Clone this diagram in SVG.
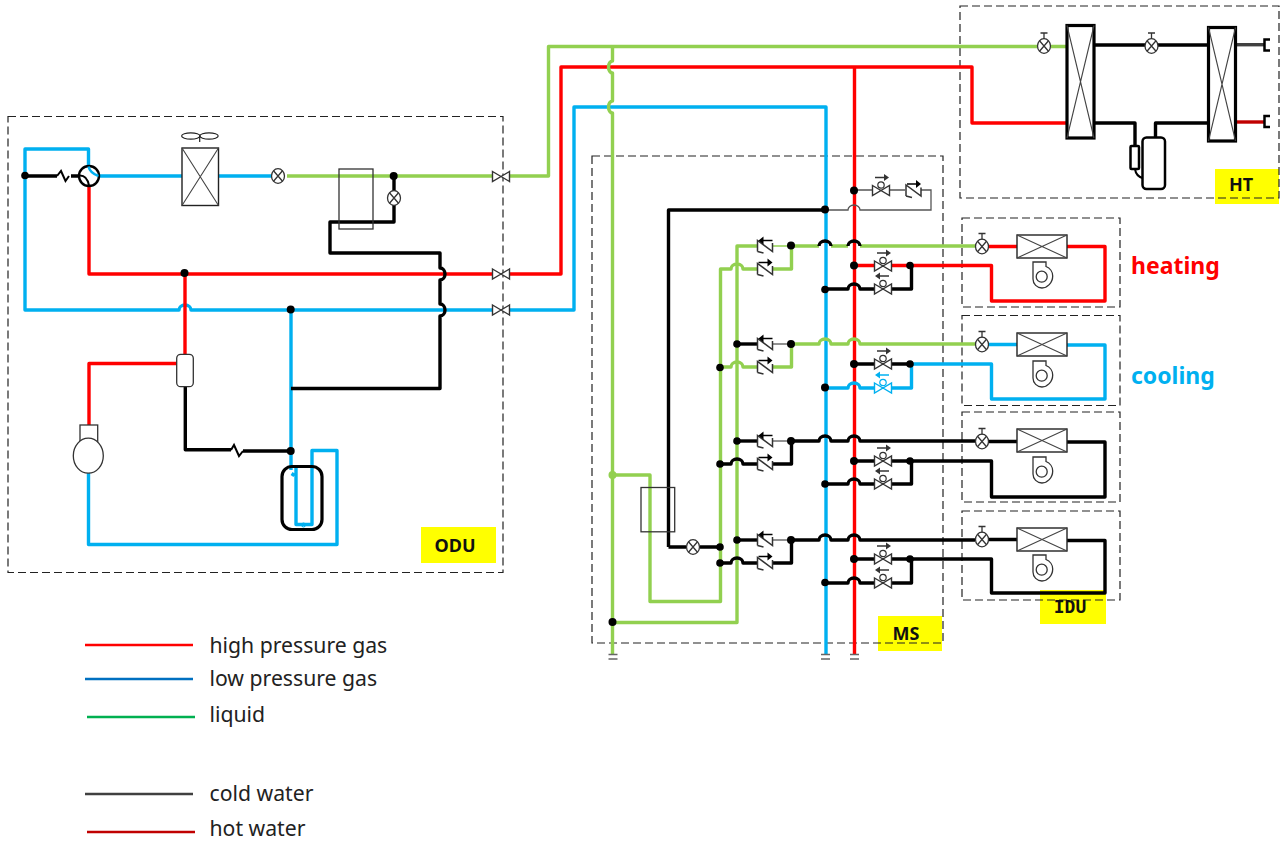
<svg xmlns="http://www.w3.org/2000/svg" xmlns:xlink="http://www.w3.org/1999/xlink" width="1280" height="845" viewBox="0 0 1280 845">
<style>
text{font-family:"Noto Sans","Open Sans","Liberation Sans",sans-serif}
.p{fill:none;stroke-width:3.4;stroke-linejoin:round;stroke-linecap:butt}
.g{stroke:#92d050}.b{stroke:#00b0f0}.r{stroke:#ff0000}.k{stroke:#000}
.t{fill:none;stroke:#555;stroke-width:1.3}
.dash{fill:none;stroke:#222;stroke-width:1.2;stroke-dasharray:8 4}
.hx{fill:#fff;stroke:#222;stroke-width:1.4}
.hxb{fill:#fff;stroke:#000;stroke-width:3.2}
.x{fill:none;stroke:#444;stroke-width:1.1}
.y{fill:#ffff00}
.lb{font-weight:700;font-size:18px;fill:#111;text-anchor:middle}
.lg{font-size:21.200px;fill:#222}
.big{font-weight:700;font-size:23px}
.dot{fill:#000}
</style>
<defs>
<g id="exv"><ellipse rx="6.500" ry="7.300" fill="#fff" stroke="#333" stroke-width="1.300"/><path d="M-4.500 -5.200L4.500 5.200M-4.500 5.200L4.500 -5.200" stroke="#333" stroke-width="1.300" fill="none"/></g>
<g id="exvh"><use xlink:href="#exv"/><path d="M0 -7V-13M-3.500 -13H3.500" stroke="#333" stroke-width="1.300" fill="none"/></g>
<path id="gate" d="M-8.500 -5L8.500 5V-5L-8.500 5Z" fill="#fff" stroke="currentColor" stroke-width="1.400"/>
<path id="ck" d="M-7 5.500V-5.500L8 5.500V-3M-7 5.500L-1 7" fill="none" stroke="currentColor" stroke-width="1.500"/>
<g id="svr"><use xlink:href="#gate"/><circle cy="-5.500" r="3.200" fill="#fff" stroke="currentColor" stroke-width="1.200"/><path d="M-6 -13H5" stroke="currentColor" stroke-width="1.500"/><path d="M8 -13L3 -16.500V-9.500Z" fill="currentColor"/></g>
<g id="svl"><use xlink:href="#gate"/><circle cy="-5.500" r="3.200" fill="#fff" stroke="currentColor" stroke-width="1.200"/><path d="M6 -13H-5" stroke="currentColor" stroke-width="1.500"/><path d="M-8 -13L-3 -16.500V-9.500Z" fill="currentColor"/></g>
<g id="ckl"><use xlink:href="#ck"/><path d="M8 -5.500H-2" stroke="#000" stroke-width="1.500"/><path d="M-6 -5.500L-1 -9.500V-1.500Z" fill="#000"/></g>
<g id="ckr"><use xlink:href="#ck"/><path d="M-6 -6.500H4" stroke="#000" stroke-width="1.500"/><path d="M8 -6.500L3 -10.500V-2.500Z" fill="#000"/></g>
<g id="fan"><path d="M0 0H13V4.500C17 6 19.700 10 19.700 14C19.700 21 14 26 9 26C4 26 0 22 0 17Z" fill="#fff" stroke="#333" stroke-width="1.300"/><circle cx="8.700" cy="14.700" r="5.500" fill="#fff" stroke="#333" stroke-width="1.300"/></g>
<g id="idx"><rect width="50" height="23" class="hx"/><path d="M0 0L50 23M0 23L50 0" class="x"/></g>
</defs>

<g id="frames">
<rect x="421" y="527" width="75" height="36" class="y"/>
<rect x="878" y="616" width="64" height="35" class="y"/>
<rect x="1215" y="169" width="64" height="35" class="y"/>
<rect x="1040" y="590" width="66" height="34" class="y"/>
<rect x="8" y="116.500" width="495" height="456" class="dash"/>
<rect x="592" y="156" width="351" height="487" class="dash"/>
<rect x="960" y="6" width="319" height="192" class="dash"/>
<rect x="962" y="218" width="158" height="89" class="dash"/>
<rect x="962" y="315.500" width="158" height="90" class="dash"/>
<rect x="962" y="412" width="158" height="90" class="dash"/>
<rect x="962" y="511" width="158" height="89" class="dash"/>
</g>

<g id="connectors">
<path class="p b" d="M88.500 165V149H25V310H179A6 5 0 0 1 191 310H492M510 310H574V107H826V655"/>
<path class="p b" d="M99 176H182M218 176H272"/>
<path class="p r" d="M89 186V274H492M510 274H561V67H972V123H1067"/>
<path class="p r" d="M854.500 67V654"/>
<path class="p r" d="M185 274V354M177 363.500H89V425"/>
<path class="p b" d="M291 310V470M88.500 473V544.500H337V450.500H312V524.500H296V468M294 473L292 476"/>
<path class="p k" d="M25 176H57M71 176H80"/>
<path d="M57 176L61 171L65.500 181L69 176" fill="none" stroke="#000" stroke-width="2"/>
<path class="p k" d="M185.300 387V449.700H231M243 451H291"/>
<path d="M231 450L234 445L239 456L243 451" fill="none" stroke="#000" stroke-width="2"/>
<path class="p k" d="M291 388.500H440V316A5 6 0 0 0 440 304V280A5 6 0 0 0 440 268V253H330V222H394V205M394 192V176"/>
<path class="p g" d="M287 176H492M510 176H548.500V46.500H1037M1051 46.500H1067"/>
<path class="p g" d="M612.500 46.500V61A4 6 0 0 0 612.500 73V101A4 6 0 0 0 612.500 113V654"/>
<path class="p g" d="M612.500 475H650V601.500H720.500V269H731A6 5 0 0 1 743 269H757M772 269H791.500V246M612.500 622.500H737V246H757"/>
<path d="M772 246H791" stroke="#92d050" stroke-width="1.500" fill="none"/>
<path class="p g" d="M791 246H819M831 246H848M860 246H975"/>
<path class="p k" d="M819 246A6 5 0 0 1 831 246M848 246A6 5 0 0 1 860 246"/>
<path class="p k" d="M668.500 547V210H825M668.500 547H686M700 547H720"/>
<path class="t" d="M854 190H872M890 190H905M921 190H931V210H860A6 5 0 0 0 848 210H825"/>
<path class="p k" d="M737 344H757"/><path class="t" d="M772 344H791"/>
<path class="p g" d="M791 344H819A6 5 0 0 1 831 344H848A6 5 0 0 1 860 344H975"/>
<path class="p g" d="M720 367H731A6 5 0 0 1 743 367H757M772 367H791.500V344"/>
<path class="p k" d="M737 441H757"/><path class="t" d="M772 441H791"/>
<path class="p k" d="M791 441H819A6 5 0 0 1 831 441H848A6 5 0 0 1 860 441H975"/>
<path class="p k" d="M720 464H731A6 5 0 0 1 743 464H757M772 464H791.500V441"/>
<path class="p k" d="M737 540H757"/><path class="t" d="M772 540H791"/>
<path class="p k" d="M791 540H819A6 5 0 0 1 831 540H848A6 5 0 0 1 860 540H975"/>
<path class="p k" d="M720 563H731A6 5 0 0 1 743 563H757M772 563H791.500V540"/>
<path class="p r" d="M854 265.500H875M891 265.500H991.500V301H1105V246.500H1067M988 246.500H1017"/>
<path class="p k" d="M825 289H848A6 5 0 0 1 860 289H875M891 289H911.500V265.500"/>
<path class="p k" d="M854 364H875M891 364H910"/>
<path class="p b" d="M825 388H848A6 5 0 0 1 860 388H875M891 388H911.500V364M910 364H991.500V399H1105V345H1067M988 344.500H1017"/>
<path class="p k" d="M854 461H875M891 461H991.500V497H1105V442H1067M988 441.500H1017"/>
<path class="p k" d="M825 484H848A6 5 0 0 1 860 484H875M891 484H911.500V461"/>
<path class="p k" d="M854 559H875M891 559H991.500V593H1105V540.500H1067M988 539.500H1017"/>
<path class="p k" d="M825 583H848A6 5 0 0 1 860 583H875M891 583H911.500V559"/>
<path class="p k" d="M1094 45H1208M1094 123H1135V146M1155.500 138V123H1208"/>
<path class="p" stroke="#404040" d="M1236 44.700H1264"/>
<path class="p" stroke="#c00000" d="M1236 122H1264"/>
<g id="junctions">
<circle class="dot" cx="25" cy="175.500" r="3.800"/><circle class="dot" cx="184.500" cy="273" r="4"/><circle class="dot" cx="290.700" cy="309.500" r="4"/><circle class="dot" cx="290.700" cy="451" r="4"/><circle class="dot" cx="393.700" cy="176" r="4"/>
<circle cx="612.500" cy="475" r="4" fill="#92d050"/><circle class="dot" cx="612.500" cy="622" r="4"/>
<circle class="dot" cx="825" cy="209.500" r="4"/><circle class="dot" cx="854" cy="190.500" r="4"/>
<circle class="dot" cx="791" cy="245.500" r="4"/><circle class="dot" cx="854" cy="265.500" r="4"/><circle class="dot" cx="910" cy="265.500" r="3.800"/><circle class="dot" cx="825" cy="289.500" r="3.800"/>
<circle class="dot" cx="737" cy="344" r="3.800"/><circle class="dot" cx="791" cy="344" r="4"/><circle class="dot" cx="720" cy="367.500" r="3.800"/><circle class="dot" cx="854" cy="364" r="4"/><circle class="dot" cx="910" cy="364" r="3.800"/><circle class="dot" cx="825" cy="387.500" r="4"/>
<circle class="dot" cx="737" cy="441" r="3.800"/><circle class="dot" cx="791" cy="441" r="4"/><circle class="dot" cx="720" cy="464" r="3.800"/><circle class="dot" cx="854" cy="461" r="4"/><circle class="dot" cx="910" cy="461" r="3.800"/><circle class="dot" cx="825" cy="484" r="3.800"/>
<circle class="dot" cx="737" cy="540" r="3.800"/><circle class="dot" cx="791" cy="540" r="4"/><circle class="dot" cx="720" cy="547" r="3.800"/><circle class="dot" cx="720" cy="563" r="3.800"/><circle class="dot" cx="854" cy="559" r="4"/><circle class="dot" cx="910" cy="559" r="3.800"/><circle class="dot" cx="825" cy="582.500" r="3.800"/>
</g>
</g>

<g id="odu-four-way"><circle cx="89" cy="176" r="10" fill="#fff" stroke="#000" stroke-width="2.400"/><path d="M88.500 166.500Q90 173 98.500 176" fill="none" stroke="#00b0f0" stroke-width="2.500"/><path d="M80 175.500Q87 175.500 89 185.500" fill="none" stroke="#000" stroke-width="2"/></g>
<g id="odu-condenser"><rect x="182" y="148" width="36.500" height="57.500" class="hx"/><path d="M182 148L218.500 205.500M182 205.500L218.500 148" class="x"/><ellipse cx="190.800" cy="136" rx="9.200" ry="3.200" fill="none" stroke="#222" stroke-width="1.200"/><ellipse cx="209" cy="136" rx="9.200" ry="3.200" fill="none" stroke="#222" stroke-width="1.200"/><path d="M199.700 136V142" stroke="#222" stroke-width="1.200"/></g>
<use id="odu-exv1" xlink:href="#exv" x="278" y="176"/>
<use id="odu-exv2" xlink:href="#exv" x="394" y="198"/>
<g id="odu-receiver"><rect x="339" y="169" width="34" height="60" fill="none" stroke="#333" stroke-width="1.300"/></g>
<g id="odu-gates" color="#333"><use xlink:href="#gate" x="501" y="176.500"/><use xlink:href="#gate" x="501" y="274"/><use xlink:href="#gate" x="501" y="310"/></g>
<g id="odu-separator"><rect x="176.700" y="354.300" width="16.600" height="32.400" rx="4" fill="#fff" stroke="#333" stroke-width="1.300"/></g>
<g id="odu-compressor"><rect x="80" y="425" width="17.700" height="17" fill="#fff" stroke="#333" stroke-width="1.300"/><ellipse cx="88.300" cy="455.700" rx="15" ry="17.500" fill="#fff" stroke="#333" stroke-width="1.300"/></g>
<g id="odu-accumulator"><rect x="282" y="466.500" width="40" height="63" rx="10" fill="none" stroke="#000" stroke-width="3.200"/><circle cx="303.500" cy="525" r="2" fill="none" stroke="#00b0f0"/></g>

<g id="ms-subcooler"><rect x="641" y="487.500" width="33.700" height="44.300" fill="none" stroke="#333" stroke-width="1.300"/></g>
<use id="ms-exv" xlink:href="#exv" x="693" y="547"/>
<g id="ms-checks" color="#333">
<use xlink:href="#ckl" x="764.500" y="246"/><use xlink:href="#ckr" x="764.500" y="269"/>
<use xlink:href="#ckl" x="764.500" y="344"/><use xlink:href="#ckr" x="764.500" y="367"/>
<use xlink:href="#ckl" x="764.500" y="441"/><use xlink:href="#ckr" x="764.500" y="464"/>
<use xlink:href="#ckl" x="764.500" y="540"/><use xlink:href="#ckr" x="764.500" y="563"/>
<use xlink:href="#ckr" x="913" y="190.500"/><use xlink:href="#svr" x="881" y="190.500"/>
</g>
<g id="ms-solenoids" color="#333">
<use xlink:href="#svr" x="883" y="266"/><use xlink:href="#svl" x="883" y="289"/>
<use xlink:href="#svr" x="883" y="364"/><use xlink:href="#svl" x="883" y="388" color="#00b0f0"/>
<use xlink:href="#svr" x="883" y="461"/><use xlink:href="#svl" x="883" y="484"/>
<use xlink:href="#svr" x="883" y="559"/><use xlink:href="#svl" x="883" y="583"/>
</g>
<g id="grounds" stroke="#666" stroke-width="1.300">
<path d="M608.500 654.500H617.500M608.500 659H617.500"/><path d="M821 654.500H830M821 659H830"/><path d="M850 654.500H859M850 659H859"/>
</g>

<g id="idu1"><use xlink:href="#exvh" x="982" y="246.500"/><use xlink:href="#idx" x="1017" y="235"/><use xlink:href="#fan" x="1033" y="262"/></g>
<g id="idu2"><use xlink:href="#exvh" x="982" y="344.500"/><use xlink:href="#idx" x="1017" y="333"/><use xlink:href="#fan" x="1033" y="361"/></g>
<g id="idu3"><use xlink:href="#exvh" x="982" y="441.500"/><use xlink:href="#idx" x="1017" y="429"/><use xlink:href="#fan" x="1033" y="457"/></g>
<g id="idu4"><use xlink:href="#exvh" x="982" y="539.500"/><use xlink:href="#idx" x="1017" y="528"/><use xlink:href="#fan" x="1033" y="555"/></g>

<g id="ht-unit">
<use xlink:href="#exvh" x="1044" y="46"/><use xlink:href="#exvh" x="1151.500" y="46"/>
<rect x="1067" y="25.500" width="27" height="112.500" class="hxb"/><path d="M1067 25.500L1094 138M1067 138L1094 25.500" class="x"/>
<rect x="1208.500" y="27.500" width="27" height="113.500" class="hxb"/><path d="M1208.500 27.500L1235.500 141M1208.500 141L1235.500 27.500" class="x"/>
<rect x="1142.500" y="137.500" width="22.500" height="51.500" rx="4" fill="#fff" stroke="#000" stroke-width="2.500"/>
<rect x="1130.500" y="146" width="8.500" height="23" rx="1" fill="#fff" stroke="#000" stroke-width="2.500"/>
<path d="M1135 169Q1136 176 1142.500 178" fill="none" stroke="#000" stroke-width="2"/>
<path d="M1270 39.500H1264.500V50.500H1270M1270 116H1264.500V127H1270" fill="none" stroke="#000" stroke-width="2.500"/>
</g>

<g id="labels">
<text class="lb" x="455" y="552">ODU</text>
<text class="lb" x="906" y="640">MS</text>
<text class="lb" x="1241" y="191">HT</text>
<text class="lb" x="1070" y="613" style="font-family:'DejaVu Sans Mono',monospace">IDU</text>
<text class="big" x="1131" y="274" fill="#ff0000">heating</text>
<text class="big" x="1131" y="384" fill="#00b0f0">cooling</text>
</g>

<g id="legend">
<path d="M85 645H193" stroke="#ff0000" stroke-width="2.500"/>
<path d="M85 679H193" stroke="#0070c0" stroke-width="2.500"/>
<path d="M87 717H195" stroke="#00b050" stroke-width="2.500"/>
<path d="M85 794H193" stroke="#404040" stroke-width="2.500"/>
<path d="M87 832H195" stroke="#c00000" stroke-width="2.500"/>
<text class="lg" x="209.500" y="652.500">high pressure gas</text>
<text class="lg" x="209.500" y="685.500">low pressure gas</text>
<text class="lg" x="209.500" y="721.500">liquid</text>
<text class="lg" x="209.500" y="801">cold water</text>
<text class="lg" x="209.500" y="835.500">hot water</text>
</g>
</svg>
